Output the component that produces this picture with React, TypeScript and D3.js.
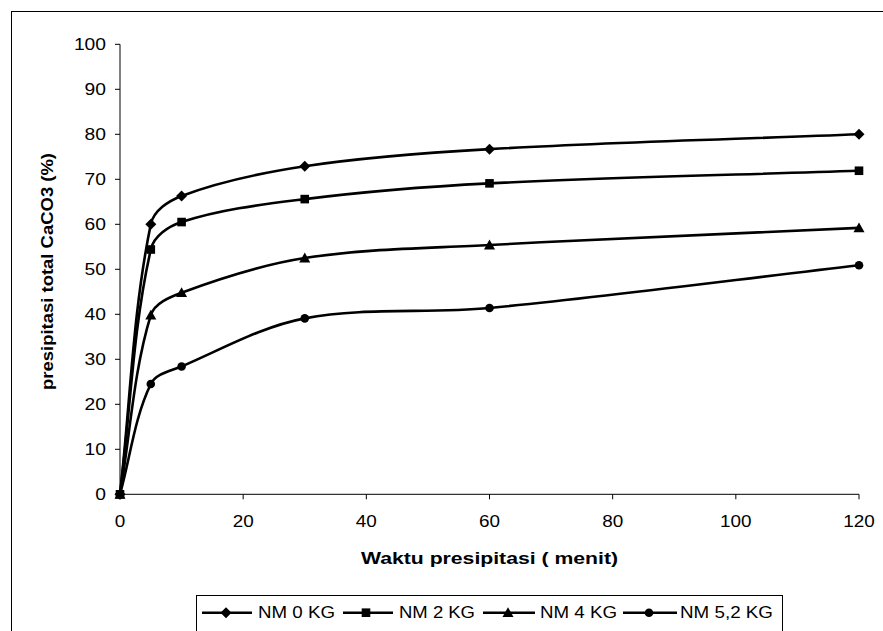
import React from "react";
import * as d3 from "d3";

const times = [0, 5, 10, 30, 60, 120];
const nm0 = [0, 60, 66.3, 72.9, 76.7, 80];
const nm2 = [0, 54.4, 60.5, 65.6, 69.1, 71.9];
const nm4 = [0, 39.8, 44.8, 52.5, 55.4, 59.2];
const nm52 = [0, 24.5, 28.4, 39.1, 41.4, 50.9];
const seriesNames = ["NM 0 KG", "NM 2 KG", "NM 4 KG", "NM 5,2 KG"];
const markerTypes = ["diamond", "square", "triangle", "circle"];
const xTicks = [0, 20, 40, 60, 80, 100, 120];
const yTicks = [0, 10, 20, 30, 40, 50, 60, 70, 80, 90, 100];

const W = 883;
const H = 631;
const FONT = "'Liberation Sans', Arial, sans-serif";

// Excel-like smoothing: Bezier segments with tangent direction along the
// neighbours' chord and control-arm length proportional to the segment length.
function smoothPath(pts: [number, number][], k = 1 / 3): string {
  const p = d3.path();
  const n = pts.length;
  const dir = pts.map((_, i) => {
    const a = pts[Math.max(0, i - 1)];
    const b = pts[Math.min(n - 1, i + 1)];
    const dx = b[0] - a[0];
    const dy = b[1] - a[1];
    const len = Math.hypot(dx, dy) || 1;
    return [dx / len, dy / len];
  });
  p.moveTo(pts[0][0], pts[0][1]);
  for (let i = 0; i < n - 1; i++) {
    const a = pts[i];
    const b = pts[i + 1];
    const L = Math.hypot(b[0] - a[0], b[1] - a[1]) * k;
    p.bezierCurveTo(
      a[0] + dir[i][0] * L,
      a[1] + dir[i][1] * L,
      b[0] - dir[i + 1][0] * L,
      b[1] - dir[i + 1][1] * L,
      b[0],
      b[1]
    );
  }
  return p.toString();
}

function Marker({ type, x, y }: { type: string; x: number; y: number }) {
  if (type === "diamond") {
    const s = 5.5;
    return <path d={`M${x},${y - s}L${x + s},${y}L${x},${y + s}L${x - s},${y}Z`} fill="#000" />;
  }
  if (type === "square") {
    const s = 4.3;
    return <rect x={x - s} y={y - s} width={2 * s} height={2 * s} fill="#000" />;
  }
  if (type === "triangle") {
    const s = 5.5;
    return <path d={`M${x},${y - s}L${x + s},${y + s * 0.8}L${x - s},${y + s * 0.8}Z`} fill="#000" />;
  }
  return <circle cx={x} cy={y} r={4.3} fill="#000" />;
}

export default function App() {
  const x = d3.scaleLinear().domain([0, 120]).range([120, 859]);
  const y = d3.scaleLinear().domain([0, 100]).range([494.3, 44.3]);
  const allSeries = [nm0, nm2, nm4, nm52];

  const legendLines = [
    { x1: 202, x2: 252, mx: 226, tx: 258, tw: 77 },
    { x1: 343, x2: 393, mx: 366, tx: 399, tw: 76 },
    { x1: 483, x2: 535, mx: 508, tx: 540, tw: 77 },
    { x1: 623, x2: 677, mx: 649, tx: 680, tw: 93 },
  ];
  const legendY = 612.7;

  return (
    <svg width={W} height={H} style={{ position: "absolute", left: 0, top: 0, background: "#fff" }}>
      <rect x={0} y={0} width={W} height={H} fill="#fff" />
      <rect x={11.5} y={11.5} width={W + 20} height={H + 20} fill="none" stroke="#000" strokeWidth={1} />

      {/* axes */}
      <line x1={120} x2={120} y1={y(100)} y2={y(0)} stroke="#000" strokeWidth={1} />
      <line x1={120} x2={x(120)} y1={y(0)} y2={y(0)} stroke="#000" strokeWidth={1} />
      {yTicks.map((t) => (
        <g key={"y" + t}>
          <line x1={115} x2={120} y1={y(t)} y2={y(t)} stroke="#000" />
          <text
            x={106}
            y={y(t) + 6}
            textAnchor="end"
            fontFamily={FONT}
            fontSize={16}
            textLength={String(t).length * 10.7}
            lengthAdjust="spacingAndGlyphs"
          >
            {t}
          </text>
        </g>
      ))}
      {xTicks.map((t) => (
        <g key={"x" + t}>
          <line x1={x(t)} x2={x(t)} y1={y(0)} y2={y(0) + 5} stroke="#000" />
          <text
            x={x(t)}
            y={527}
            textAnchor="middle"
            fontFamily={FONT}
            fontSize={16}
            textLength={String(t).length * 10.5}
            lengthAdjust="spacingAndGlyphs"
          >
            {t}
          </text>
        </g>
      ))}

      <text
        transform="translate(53,271.5) rotate(-90)"
        textAnchor="middle"
        fontFamily={FONT}
        fontSize={16}
        fontWeight="bold"
        textLength={237}
        lengthAdjust="spacingAndGlyphs"
      >
        presipitasi total CaCO3 (%)
      </text>
      <text
        x={489.5}
        y={563.5}
        textAnchor="middle"
        fontFamily={FONT}
        fontSize={16}
        fontWeight="bold"
        textLength={257}
        lengthAdjust="spacingAndGlyphs"
      >
        Waktu presipitasi ( menit)
      </text>

      {/* series */}
      {allSeries.map((s, si) => {
        const pts = s.map((v, i) => [x(times[i]), y(v)] as [number, number]);
        return (
          <g key={"s" + si}>
            <path d={smoothPath(pts)} fill="none" stroke="#000" strokeWidth={2.6} />
            {pts.map((pt, i) => (
              <Marker key={i} type={markerTypes[si]} x={pt[0]} y={pt[1]} />
            ))}
          </g>
        );
      })}

      {/* legend */}
      <rect x={196.5} y={595.5} width={586} height={60} fill="#fff" stroke="#000" strokeWidth={1} />
      {legendLines.map((l, i) => (
        <g key={"l" + i}>
          <line x1={l.x1} x2={l.x2} y1={legendY} y2={legendY} stroke="#000" strokeWidth={2.6} />
          <Marker type={markerTypes[i]} x={l.mx} y={legendY} />
          <text
            x={l.tx}
            y={617.5}
            fontFamily={FONT}
            fontSize={16}
            textLength={l.tw}
            lengthAdjust="spacingAndGlyphs"
          >
            {seriesNames[i]}
          </text>
        </g>
      ))}
    </svg>
  );
}
